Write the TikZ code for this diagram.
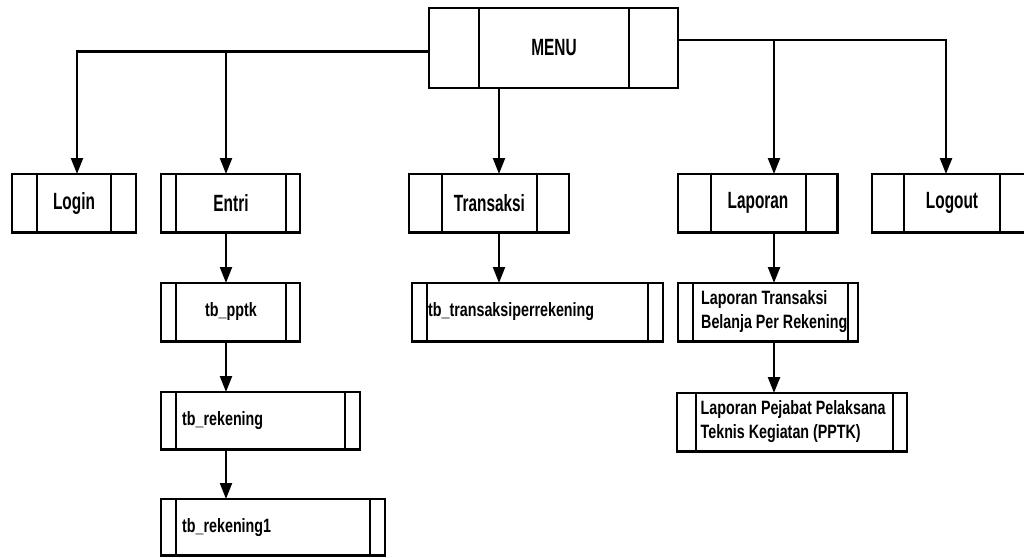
\documentclass[tikz,border=0pt]{standalone}
\usepackage{fontspec}
\setmainfont{Liberation Sans}
\newfontfamily\fbig{Liberation Sans}[FakeStretch=0.655]
\newfontfamily\fsmall{Liberation Sans}[FakeStretch=0.74]
\usetikzlibrary{arrows.meta,calc}
\tikzset{
  pbox/.style={draw, line width=2.6pt, rectangle, inner sep=0pt, outer sep=0pt, fill=white},
  divider/.style={line width=2pt},
  conn/.style={line width=2.3pt, -{Triangle[width=12pt,length=16pt]}},
  bigtxt/.style={font=\fbig\bfseries\fontsize{23.5}{26}\selectfont, inner sep=0pt},
  smalltxt/.style={font=\fsmall\bfseries\fontsize{19.3}{24}\selectfont, inner sep=0pt, align=left},
}
\newcommand\procbox[7]{%
  \node[pbox, anchor=north west, minimum width={(#5-#2)*1pt}, minimum height={(#7-#6)*1pt}] (#1) at (#2,#6) {};
  \draw[divider] (#3,#6) -- (#3,#7) (#4,#6) -- (#4,#7);
}
\begin{document}
\begin{tikzpicture}[x=1pt,y=-1pt]
\useasboundingbox (0,0) rectangle (1024,557);
\clip (0,0) rectangle (1024,557);
\fill[white] (0,0) rectangle (1024,557);

% boxes
\procbox{menu}{429}{479}{629}{678}{8}{88}
\procbox{login}{12}{37}{111}{136}{174}{232.5}
\procbox{entri}{161}{176}{286}{300}{174}{232.5}
\procbox{transaksi}{409}{442}{537}{569}{174}{232.5}
\procbox{laporan}{678}{710.5}{806}{837.5}{174}{232.5}
\procbox{logout}{872}{904}{1000}{1032}{174}{232.5}
\procbox{pptk}{161}{176}{286}{300}{283}{341.5}
\procbox{rek}{161}{176}{345}{360}{392}{449.5}
\procbox{rekA}{161}{176}{370}{385}{499}{555.5}
\procbox{tbtrans}{412}{427}{648}{663}{283}{341.5}
\procbox{laptrans}{678}{693}{848}{858}{283}{341.5}
\procbox{lappej}{677}{696}{893}{907}{393}{451.5}

% texts
\node[bigtxt] (t-menu) at (554,48) {MENU};
\node[bigtxt] (t-login) at (74,203) {Login};
\node[bigtxt] (t-entri) at (231,203) {Entri};
\node[bigtxt] (t-transaksi) at (489.5,203) {Transaksi};
\node[bigtxt] (t-laporan) at (758,203) {Laporan};
\node[bigtxt] (t-logout) at (952,203) {Logout};
\node[smalltxt] (t-pptk) at (231,312) {tb\_pptk};
\node[smalltxt, anchor=west] (t-rek) at (182,420.5) {tb\_rekening};
\node[smalltxt, anchor=west] (t-rekA) at (182,528) {tb\_rekening1};
\node[smalltxt, anchor=west] (t-tbtrans) at (428,312) {tb\_transaksiperrekening};
\node[smalltxt, anchor=west] (t-laptrans) at (701,312) {Laporan Transaksi\\Belanja Per Rekening};
\node[smalltxt, anchor=west] (t-lappej) at (700.5,422) {Laporan Pejabat Pelaksana\\Teknis Kegiatan (PPTK)};

% connector columns
\coordinate (xlog) at (77,0);
\coordinate (xent) at (226,0);
\coordinate (xtra) at (499,0);
\coordinate (xlap) at (774,0);
\coordinate (xout) at (946,0);
\coordinate (ml) at ([yshift=-3.5pt]menu.west);
\coordinate (mr) at ([yshift=8pt]menu.east);

% connectors
\draw[conn] (ml) -| (login.north -| xlog);
\draw[conn] (ml -| xent) -- (entri.north -| xent);
\draw[conn] (menu.south -| xtra) -- (transaksi.north -| xtra);
\draw[conn] (mr) -| (logout.north -| xout);
\draw[conn] (mr -| xlap) -- (laporan.north -| xlap);
\draw[conn] (entri.south -| xent) -- (pptk.north -| xent);
\draw[conn] (pptk.south -| xent) -- (rek.north -| xent);
\draw[conn] (rek.south -| xent) -- (rekA.north -| xent);
\draw[conn] (transaksi.south -| xtra) -- (tbtrans.north -| xtra);
\draw[conn] (laporan.south -| xlap) -- (laptrans.north -| xlap);
\draw[conn] (laptrans.south -| xlap) -- (lappej.north -| xlap);
\end{tikzpicture}
\end{document}
